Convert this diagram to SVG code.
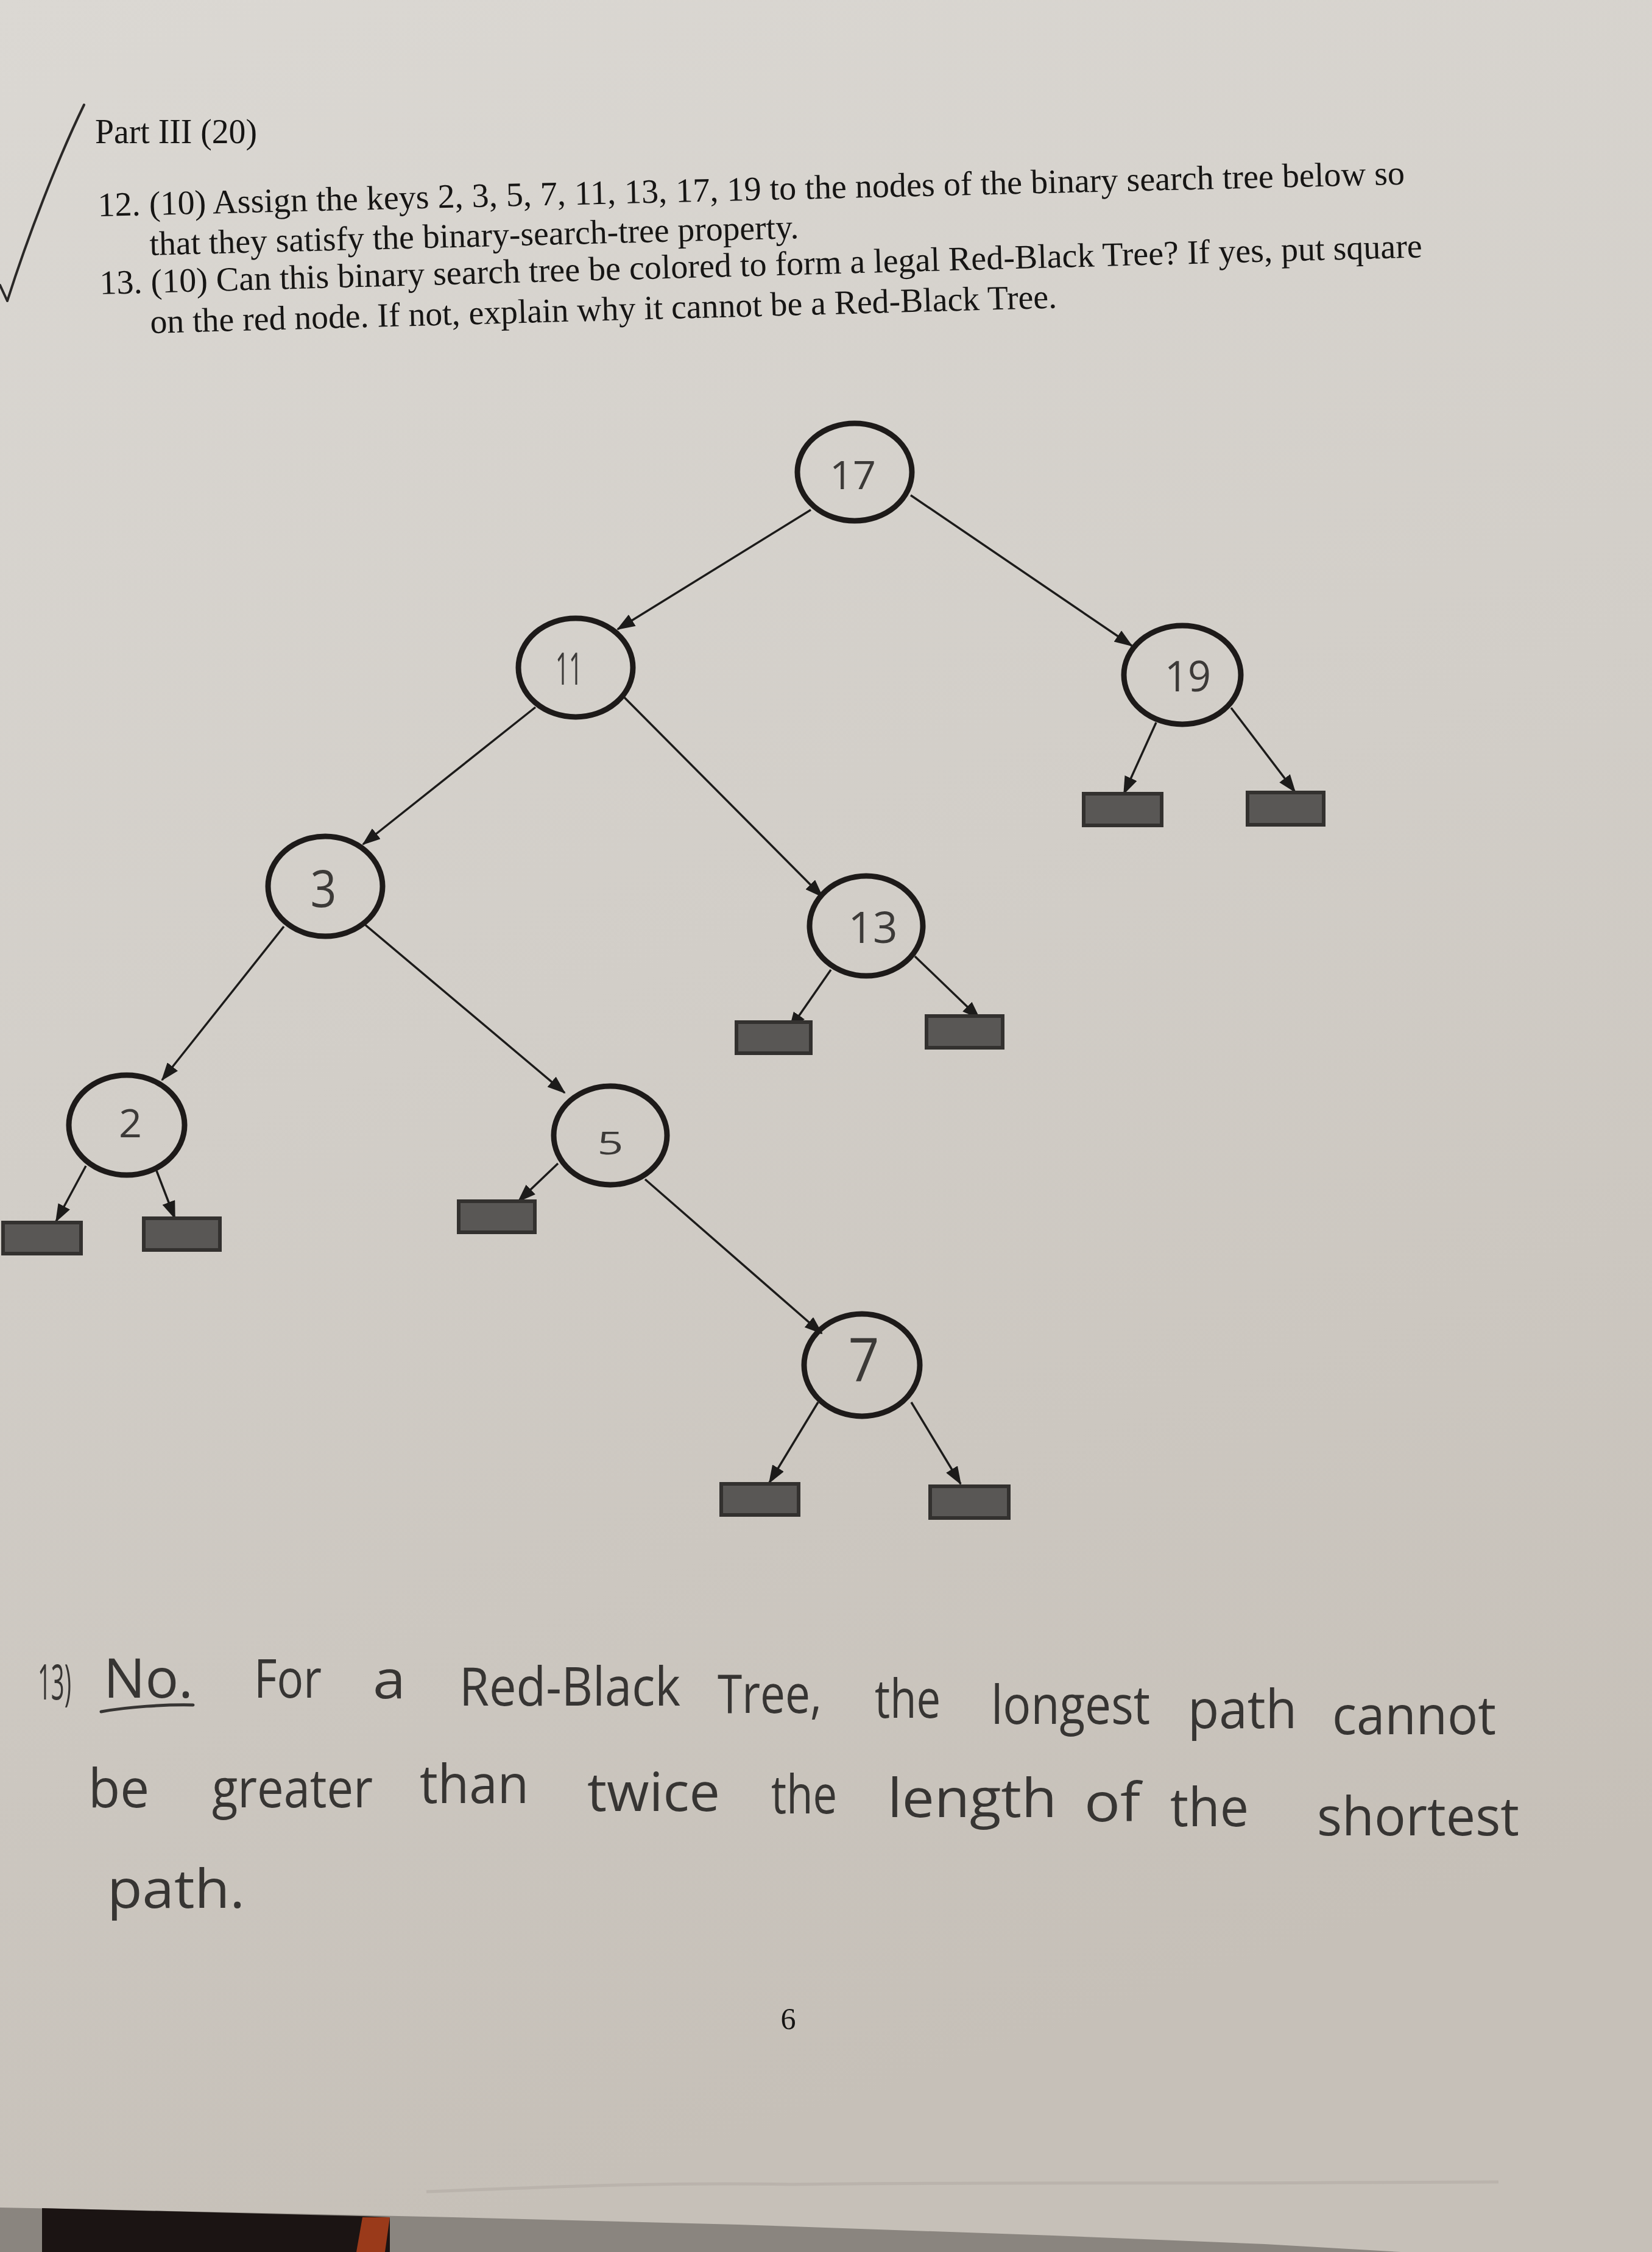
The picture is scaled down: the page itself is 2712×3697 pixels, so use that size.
<svg xmlns="http://www.w3.org/2000/svg" width="2712" height="3697" viewBox="0 0 2712 3697">
<defs>
<linearGradient id="paper" x1="0" y1="0" x2="0.25" y2="1">
<stop offset="0" stop-color="#dbd8d3"/>
<stop offset="0.5" stop-color="#d2cec8"/>
<stop offset="1" stop-color="#c6c0b8"/>
</linearGradient>
<marker id="arr" markerUnits="userSpaceOnUse" markerWidth="30" markerHeight="22" refX="28" refY="11" orient="auto">
<path d="M0,0 L30,11 L0,22 z" fill="#1c1b1a"/>
</marker>
<style>
.print{font-family:"Liberation Serif","Times New Roman",serif;fill:#161514;}
.hand{font-family:"Open Sans","Liberation Sans",sans-serif;font-weight:400;fill:#373533;}
.lbl{font-family:"Open Sans","Liberation Sans",sans-serif;font-weight:400;fill:#3c3a38;text-anchor:middle;}
.node{fill:none;stroke:#1d1a19;stroke-width:9;}
.leaf{fill:#595755;stroke:#33312f;stroke-width:6;}
.edge{fill:none;stroke:#1c1b1a;stroke-width:3.5;marker-end:url(#arr);}
</style>
</defs>
<rect x="0" y="0" width="2712" height="3697" fill="url(#paper)"/>

<!-- bottom: below the paper edge -->
<path d="M0,3624 L200,3628 L744,3640 L1211,3652 L1730,3670 L2076,3684 L2300,3697 L0,3697 z" fill="#8a857f"/>
<path d="M69,3625 L590,3638 L640,3640 L640,3697 L69,3697 z" fill="#1b1413"/>
<path d="M595,3640 L640,3640 L632,3697 L585,3697 z" fill="#9a3a1a"/>
<path d="M700,3598 C900,3590 1100,3582 1300,3586 C1600,3582 1900,3585 2200,3583 L2460,3582" fill="none" stroke="#aaa49d" stroke-width="5" opacity="0.45"/>

<!-- check mark -->
<path d="M138,172 C95,260 45,390 12,494 M0,468 L12,494" fill="none" stroke="#2a2827" stroke-width="4" stroke-linecap="round"/>

<!-- printed text -->
<g id="header">
<text class="print" x="156" y="235" font-size="56" textLength="266" lengthAdjust="spacingAndGlyphs">Part III (20)</text>
<text class="print" x="161" y="355" font-size="56" textLength="2146" lengthAdjust="spacingAndGlyphs" transform="rotate(-1.4 161 355)">12. (10) Assign the keys 2, 3, 5, 7, 11, 13, 17, 19 to the nodes of the binary search tree below so</text>
<text class="print" x="246" y="419" font-size="56" textLength="1066" lengthAdjust="spacingAndGlyphs" transform="rotate(-1.5 246 419)">that they satisfy the binary-search-tree property.</text>
<text class="print" x="164" y="483" font-size="56" textLength="2172" lengthAdjust="spacingAndGlyphs" transform="rotate(-1.6 164 483)">13. (10) Can this binary search tree be colored to form a legal Red-Black Tree? If yes, put square</text>
<text class="print" x="247" y="547" font-size="56" textLength="1489" lengthAdjust="spacingAndGlyphs" transform="rotate(-1.6 247 547)">on the red node. If not, explain why it cannot be a Red-Black Tree.</text>
</g>

<!-- connectors -->
<g id="connectors">
<path class="edge" d="M1331,837 L1014,1033"/>
<path class="edge" d="M1495,813 L1858,1060"/>
<path class="edge" d="M1898,1186 L1845,1303"/>
<path class="edge" d="M2021,1162 L2126,1300"/>
<path class="edge" d="M879,1161 L596,1386"/>
<path class="edge" d="M1025,1145 L1350,1472"/>
<path class="edge" d="M466,1521 L266,1773"/>
<path class="edge" d="M598,1517 L927,1794"/>
<path class="edge" d="M1364,1592 L1296,1690"/>
<path class="edge" d="M1502,1570 L1608,1672"/>
<path class="edge" d="M141,1914 L92,2005"/>
<path class="edge" d="M257,1922 L287,2000"/>
<path class="edge" d="M916,1910 L851,1972"/>
<path class="edge" d="M1059,1936 L1349,2189"/>
<path class="edge" d="M1343,2302 L1263,2434"/>
<path class="edge" d="M1496,2302 L1577,2436"/>
</g>

<!-- internal nodes -->
<g id="n17"><ellipse class="node" cx="1403" cy="775" rx="94" ry="80"/><text class="lbl" x="1400" y="803" font-size="64" textLength="76" lengthAdjust="spacingAndGlyphs">17</text></g>
<g id="n11"><ellipse class="node" cx="945" cy="1096" rx="94" ry="81"/><text class="lbl" x="934" y="1124" font-size="74" textLength="44" lengthAdjust="spacingAndGlyphs">11</text></g>
<g id="n19"><ellipse class="node" cx="1941" cy="1108" rx="96" ry="81"/><text class="lbl" x="1950" y="1135" font-size="70" textLength="76" lengthAdjust="spacingAndGlyphs">19</text></g>
<g id="n3"><ellipse class="node" cx="534" cy="1455" rx="94" ry="82"/><text class="lbl" x="531" y="1489" font-size="84" textLength="43" lengthAdjust="spacingAndGlyphs">3</text></g>
<g id="n13"><ellipse class="node" cx="1422" cy="1520" rx="93" ry="82"/><text class="lbl" x="1433" y="1548" font-size="72" textLength="81" lengthAdjust="spacingAndGlyphs">13</text></g>
<g id="n2"><ellipse class="node" cx="208" cy="1847" rx="95" ry="82"/><text class="lbl" x="214" y="1867" font-size="64" textLength="38" lengthAdjust="spacingAndGlyphs">2</text></g>
<g id="n5"><ellipse class="node" cx="1002" cy="1864" rx="93" ry="81"/><text class="lbl" x="1002" y="1895" font-size="52" textLength="43" lengthAdjust="spacingAndGlyphs">5</text></g>
<g id="n7"><ellipse class="node" cx="1415" cy="2241" rx="95" ry="84"/><text class="lbl" x="1418" y="2267" font-size="98" textLength="51" lengthAdjust="spacingAndGlyphs">7</text></g>

<!-- leaves -->
<g id="leaf19L"><rect class="leaf" x="1779" y="1303" width="128" height="52"/></g>
<g id="leaf19R"><rect class="leaf" x="2048" y="1301" width="125" height="53"/></g>
<g id="leaf13L"><rect class="leaf" x="1209" y="1678" width="122" height="51"/></g>
<g id="leaf13R"><rect class="leaf" x="1521" y="1668" width="125" height="52"/></g>
<g id="leaf2L"><rect class="leaf" x="5" y="2007" width="128" height="51"/></g>
<g id="leaf2R"><rect class="leaf" x="236" y="2000" width="125" height="52"/></g>
<g id="leaf5L"><rect class="leaf" x="753" y="1972" width="125" height="51"/></g>
<g id="leaf7L"><rect class="leaf" x="1184" y="2436" width="127" height="51"/></g>
<g id="leaf7R"><rect class="leaf" x="1527" y="2440" width="129" height="52"/></g>

<!-- handwritten answer -->
<g id="answer">
<text class="hand" x="62" y="2790" font-size="80" textLength="55" lengthAdjust="spacingAndGlyphs">13)</text>
<text class="hand" x="170" y="2787" font-size="90" textLength="147" lengthAdjust="spacingAndGlyphs">No.</text>
<path d="M166,2810 C210,2802 270,2798 317,2799" fill="none" stroke="#373533" stroke-width="5" stroke-linecap="round"/>
<text class="hand" x="417" y="2787" font-size="88" textLength="111" lengthAdjust="spacingAndGlyphs">For</text>
<text class="hand" x="612" y="2788" font-size="88" textLength="54" lengthAdjust="spacingAndGlyphs">a</text>
<text class="hand" x="754" y="2800" font-size="88" textLength="363" lengthAdjust="spacingAndGlyphs">Red-Black</text>
<text class="hand" x="1178" y="2812" font-size="88" textLength="171" lengthAdjust="spacingAndGlyphs">Tree,</text>
<text class="hand" x="1436" y="2820" font-size="88" textLength="108" lengthAdjust="spacingAndGlyphs">the</text>
<text class="hand" x="1627" y="2830" font-size="88" textLength="261" lengthAdjust="spacingAndGlyphs">longest</text>
<text class="hand" x="1950" y="2837" font-size="88" textLength="179" lengthAdjust="spacingAndGlyphs">path</text>
<text class="hand" x="2187" y="2847" font-size="88" textLength="269" lengthAdjust="spacingAndGlyphs">cannot</text>

<text class="hand" x="145" y="2967" font-size="88" textLength="100" lengthAdjust="spacingAndGlyphs">be</text>
<text class="hand" x="348" y="2967" font-size="88" textLength="264" lengthAdjust="spacingAndGlyphs">greater</text>
<text class="hand" x="689" y="2960" font-size="88" textLength="179" lengthAdjust="spacingAndGlyphs">than</text>
<text class="hand" x="964" y="2973" font-size="88" textLength="218" lengthAdjust="spacingAndGlyphs">twice</text>
<text class="hand" x="1266" y="2977" font-size="88" textLength="108" lengthAdjust="spacingAndGlyphs">the</text>
<text class="hand" x="1457" y="2983" font-size="88" textLength="278" lengthAdjust="spacingAndGlyphs">length</text>
<text class="hand" x="1780" y="2990" font-size="88" textLength="92" lengthAdjust="spacingAndGlyphs">of</text>
<text class="hand" x="1921" y="2998" font-size="88" textLength="129" lengthAdjust="spacingAndGlyphs">the</text>
<text class="hand" x="2162" y="3013" font-size="88" textLength="332" lengthAdjust="spacingAndGlyphs">shortest</text>

<text class="hand" x="176" y="3132" font-size="88" textLength="226" lengthAdjust="spacingAndGlyphs">path.</text>
</g>

<text class="print" x="1294" y="3331" font-size="50" text-anchor="middle">6</text>
</svg>
